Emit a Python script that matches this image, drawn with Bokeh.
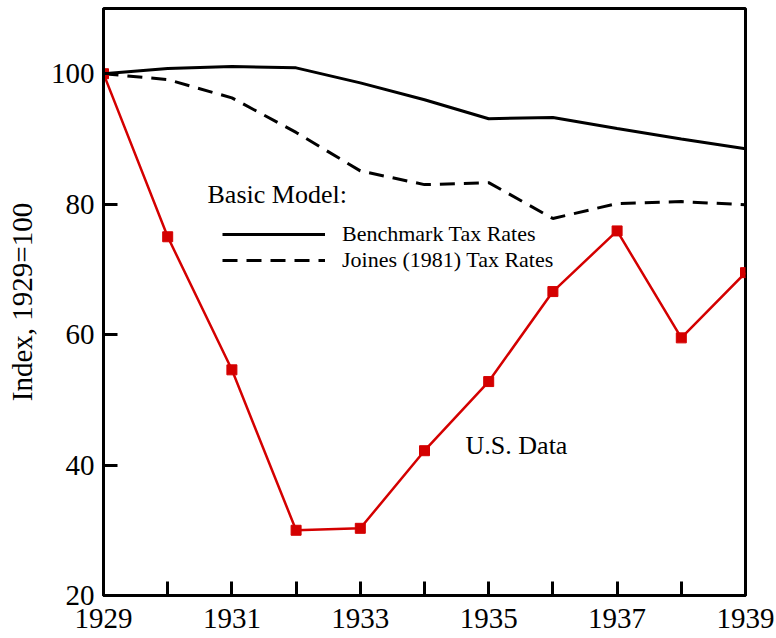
from bokeh.plotting import figure
from bokeh.models import FixedTicker, Legend, LegendItem, Label, Range1d
from bokeh.embed import file_html
from bokeh.resources import INLINE

years = [1929, 1930, 1931, 1932, 1933, 1934, 1935, 1936, 1937, 1938, 1939]
us_data = [100.0, 75.0, 54.6, 30.0, 30.3, 42.2, 52.8, 66.6, 75.9, 59.5, 69.5]
benchmark = [100.0, 100.8, 101.1, 100.9, 98.6, 96.0, 93.1, 93.3, 91.6, 90.0, 88.5]
joines = [100.0, 99.1, 96.3, 91.0, 85.1, 83.0, 83.3, 77.8, 80.1, 80.4, 79.9]
y_ticks = [20, 40, 60, 80, 100]
x_label_years = [1929, 1931, 1933, 1935, 1937, 1939]

FONT = "Liberation Serif"

p = figure(frame_width=642, frame_height=587, output_backend="svg",
           toolbar_location=None, x_range=Range1d(1929, 1939),
           y_range=Range1d(20, 110),
           min_border_left=103, min_border_top=8, min_border_right=30,
           min_border_bottom=42)
p.grid.visible = False
p.outline_line_color = "black"
p.outline_line_width = 3
p.background_fill_color = "white"
p.border_fill_color = "white"

# axes
p.xaxis.ticker = FixedTicker(ticks=years)
p.xaxis.major_label_overrides = {y: (str(y) if y in x_label_years else "") for y in years}
p.yaxis.ticker = FixedTicker(ticks=y_ticks)
for ax in (p.xaxis, p.yaxis):
    ax.axis_line_width = 3
    ax.axis_line_color = "black"
    ax.major_tick_in = 14
    ax.major_tick_out = 0
    ax.major_tick_line_width = 3
    ax.minor_tick_line_color = None
    ax.major_label_text_font = FONT
    ax.major_label_text_font_size = "29px"
    ax.major_label_text_color = "black"
p.xaxis.major_label_standoff = 13
p.yaxis.major_label_standoff = 9
p.yaxis.axis_label = "Index, 1929=100"
p.yaxis.axis_label_text_font = FONT
p.yaxis.axis_label_text_font_size = "29px"
p.yaxis.axis_label_text_font_style = "normal"
p.yaxis.axis_label_text_color = "black"
p.yaxis.axis_label_standoff = 10

# series
r_bench = p.line(years, benchmark, line_color="black", line_width=3)
r_joines = p.line(years, joines, line_color="black", line_width=3, line_dash="15 9")
p.line(years, us_data, line_color="#d40000", line_width=2.5)
p.scatter(years, us_data, marker="square", size=10, fill_color="#d40000",
          line_color="#d40000")

legend = Legend(items=[LegendItem(label="Benchmark Tax Rates", renderers=[r_bench]),
                       LegendItem(label="Joines (1981) Tax Rates", renderers=[r_joines])],
                location=(119, 322), orientation="vertical",
                glyph_width=103, glyph_height=20, label_height=20,
                label_standoff=17, spacing=0, padding=0, margin=0,
                border_line_color=None, background_fill_alpha=0,
                label_text_font=FONT, label_text_font_size="22px",
                label_text_color="black")
p.add_layout(legend, "center")

p.add_layout(Label(x=1930.62, y=81.5, text="Basic Model:", text_font=FONT,
                   text_font_size="26px", text_color="black",
                   text_baseline="middle"))
p.add_layout(Label(x=1934.64, y=43.0, text="U.S. Data", text_font=FONT,
                   text_font_size="26px", text_color="black",
                   text_baseline="middle"))

open("out.html", "w").write(file_html(p, INLINE))
